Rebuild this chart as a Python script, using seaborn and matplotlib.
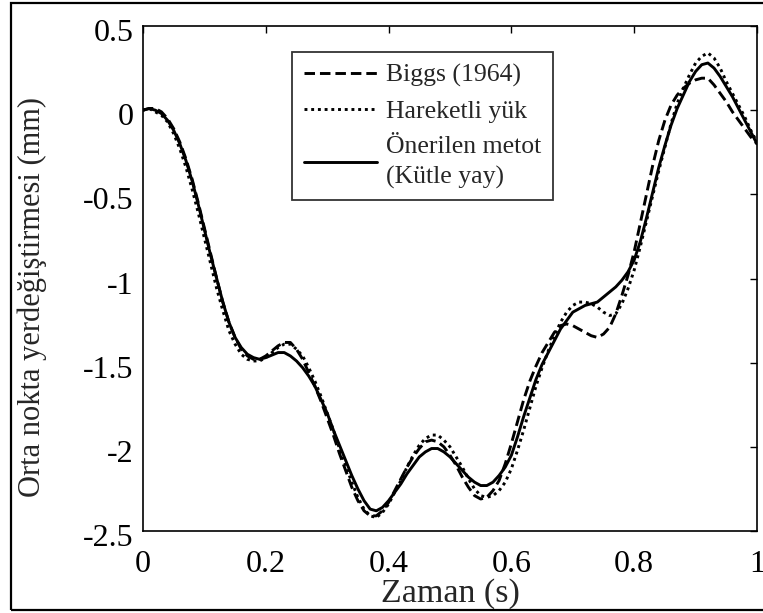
import numpy as np
import pandas as pd
import matplotlib
matplotlib.use("Agg")
import matplotlib.pyplot as plt
import seaborn as sns
from matplotlib.patches import Rectangle
from matplotlib.transforms import ScaledTranslation

# ---- data ----
time = [round(0.01 * i, 2) for i in range(101)]

biggs = [0.00, 0.01, 0.01, -0.01, -0.05, -0.11, -0.19, -0.29, -0.41, -0.55,
         -0.70, -0.85, -1.00, -1.14, -1.26, -1.35, -1.42, -1.46, -1.48, -1.48,
         -1.46, -1.43, -1.40, -1.38, -1.38, -1.42, -1.48, -1.56, -1.64, -1.73,
         -1.83, -1.93, -2.04, -2.14, -2.24, -2.32, -2.38, -2.41, -2.41, -2.38,
         -2.33, -2.26, -2.19, -2.12, -2.06, -2.01, -1.97, -1.96, -1.97, -2.00,
         -2.05, -2.11, -2.18, -2.24, -2.29, -2.31, -2.30, -2.26, -2.20, -2.10,
         -1.98, -1.85, -1.72, -1.61, -1.52, -1.44, -1.38, -1.32, -1.28, -1.27,
         -1.28, -1.30, -1.32, -1.34, -1.35, -1.33, -1.29, -1.21, -1.10, -0.98,
         -0.84, -0.67, -0.50, -0.33, -0.18, -0.06, 0.03, 0.09, 0.13, 0.16,
         0.18, 0.19, 0.19, 0.15, 0.10, 0.05, -0.01, -0.06, -0.11, -0.16, -0.20]

hareketli = [0.00, 0.01, -0.01, -0.03, -0.07, -0.14, -0.23, -0.34, -0.47, -0.61,
             -0.76, -0.91, -1.06, -1.19, -1.31, -1.39, -1.45, -1.48, -1.49, -1.49,
             -1.47, -1.44, -1.41, -1.39, -1.39, -1.42, -1.46, -1.53, -1.61, -1.70,
             -1.80, -1.90, -2.01, -2.11, -2.21, -2.30, -2.37, -2.41, -2.42, -2.39,
             -2.34, -2.27, -2.20, -2.12, -2.05, -1.99, -1.95, -1.93, -1.93, -1.96,
             -2.00, -2.06, -2.12, -2.19, -2.25, -2.29, -2.30, -2.29, -2.26, -2.21,
             -2.13, -2.02, -1.90, -1.77, -1.64, -1.53, -1.43, -1.34, -1.26, -1.20,
             -1.16, -1.14, -1.14, -1.15, -1.17, -1.20, -1.22, -1.21, -1.15, -1.06,
             -0.95, -0.81, -0.66, -0.51, -0.36, -0.22, -0.08, 0.04, 0.13, 0.21,
             0.28, 0.32, 0.34, 0.31, 0.25, 0.17, 0.10, 0.03, -0.04, -0.12, -0.19]

onerilen = [0.00, 0.01, 0.00, -0.02, -0.06, -0.12, -0.20, -0.30, -0.42, -0.56,
            -0.71, -0.86, -1.00, -1.14, -1.26, -1.35, -1.41, -1.45, -1.47, -1.48,
            -1.47, -1.455, -1.44, -1.44, -1.46, -1.49, -1.53, -1.58, -1.64, -1.72,
            -1.80, -1.90, -1.99, -2.08, -2.17, -2.25, -2.32, -2.37, -2.38, -2.36,
            -2.32, -2.27, -2.22, -2.16, -2.11, -2.06, -2.03, -2.01, -2.01, -2.03,
            -2.06, -2.10, -2.14, -2.18, -2.21, -2.23, -2.23, -2.21, -2.17, -2.12,
            -2.05, -1.94, -1.82, -1.71, -1.60, -1.51, -1.44, -1.37, -1.30, -1.25,
            -1.20, -1.18, -1.16, -1.15, -1.14, -1.11, -1.08, -1.05, -1.01, -0.96,
            -0.89, -0.78, -0.64, -0.49, -0.34, -0.21, -0.09, 0.01, 0.09, 0.17,
            0.23, 0.27, 0.28, 0.25, 0.20, 0.14, 0.08, 0.01, -0.06, -0.13, -0.20]

labels = ["Biggs (1964)", "Hareketli yük", "Önerilen metot\n(Kütle yay)"]
x_ticks = [0, 0.2, 0.4, 0.6, 0.8, 1]
x_ticklabels = ["0", "0.2", "0.4", "0.6", "0.8", "1"]
y_ticks = [-2.5, -2, -1.5, -1, -0.5, 0, 0.5]
y_ticklabels = ["-2.5", "-2", "-1.5", "-1", "-0.5", "0", "0.5"]
x_label = "Zaman (s)"
y_label = "Orta nokta yerdeğiştirmesi (mm)"

n = len(time)
df = pd.DataFrame({
    "t": time * 3,
    "y": biggs + hareketli + onerilen,
    "series": [labels[0]] * n + [labels[1]] * n + [labels[2]] * n,
})

sns.set_theme(style="white")
plt.rcParams["font.family"] = ["Liberation Serif", "DejaVu Serif"]

fig = plt.figure(figsize=(7.63, 6.13), dpi=100)
ax = fig.add_axes([143 / 763, 1 - 531 / 613, 614 / 763, 505 / 613])

lw = 2.1
sns.lineplot(data=df, x="t", y="y", hue="series", style="series",
             palette={labels[0]: "black", labels[1]: "black", labels[2]: "black"},
             dashes={labels[0]: (3.6, 1.7), labels[1]: (1.0, 1.3), labels[2]: ""},
             linewidth=lw, ax=ax, legend=True, sort=False)

ax.set_xlim(0, 1)
ax.set_ylim(-2.5, 0.5)
ax.set_xticks(x_ticks)
ax.set_xticklabels(x_ticklabels)
ax.set_yticks(y_ticks)
ax.set_yticklabels(y_ticklabels)
ax.set_xlabel(x_label, fontsize=24.5)
ax.xaxis.set_label_coords(0.5, -0.093)
ax.set_ylabel(y_label, fontsize=22)
ax.yaxis.set_label_coords(-0.156, 0.463)
ax.tick_params(axis="both", which="major", direction="in", length=5, width=1.0,
               labelsize=23, top=True, right=True, colors="black")
ax.tick_params(axis="x", pad=14)
ax.tick_params(axis="y", pad=7)
shift = ScaledTranslation(0, -4 / 100, fig.dpi_scale_trans)
for tk in ax.yaxis.get_major_ticks():
    tk.label1.set_transform(tk.label1.get_transform() + shift)
for s in ax.spines.values():
    s.set_color("black")
    s.set_linewidth(1.2)
    s.set_visible(True)

leg = ax.legend(loc="upper left", bbox_to_anchor=(0.2427, 0.9485), borderaxespad=0,
                fontsize=18.5, frameon=True, fancybox=False, edgecolor="black",
                handlelength=2.85, handletextpad=0.35, labelspacing=0.5, borderpad=0.45)
leg.get_frame().set_linewidth(1.3)
for line in leg.get_lines():
    line.set_linewidth(lw)
for txt in leg.get_texts():
    txt.set_linespacing(1.45)

# outer border of the figure
fig.patches.append(Rectangle((11 / 763, 3 / 613), 1.2, 607 / 613, transform=fig.transFigure,
                             fill=False, edgecolor="black", linewidth=1.6, clip_on=True))

fig.savefig("out.png", dpi=100, facecolor="white")
